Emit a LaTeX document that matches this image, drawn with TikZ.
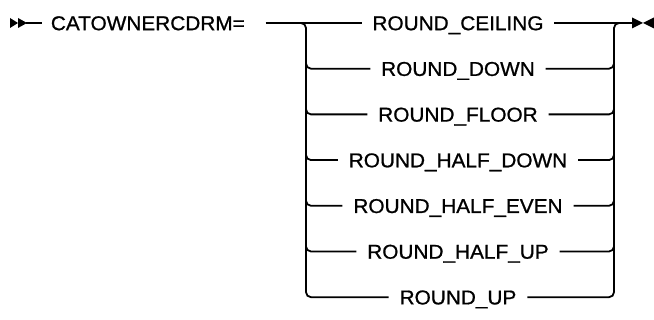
\documentclass[tikz,border=0pt]{standalone}
\usepackage{fontspec}
\setmainfont{Liberation Sans}[FakeStretch=1.04,FakeBold=0.9]
\usetikzlibrary{calc}
\begin{document}
\begin{tikzpicture}[x=1pt,y=1pt,line width=1.8pt,
  lbl/.style={inner sep=0pt,anchor=base,font=\fontsize{20}{22}\selectfont},
  br/.style={rounded corners=5pt},
  tip/.style={fill=black,draw=none}]
\useasboundingbox (0,0) rectangle (654,320);
% start
\fill[tip] (10,302) -- (10,292) -- (18,297) -- cycle;
\fill[tip] (18,302) -- (18,292) -- (27,297) -- cycle;
\coordinate (st) at (26,297);
\node[lbl,anchor=base west] (cat) at (50,289.8) {CATOWNERCDRM=};
\draw (st) -- ($(cat.west|-st)+(-8,0)$);
% rows
\foreach \i/\t [evaluate=\i as \yy using 297-45.7*\i] in
  {0/ROUND\_CEILING,1/ROUND\_DOWN,2/ROUND\_FLOOR,3/ROUND\_HALF\_DOWN,4/ROUND\_HALF\_EVEN,5/ROUND\_HALF\_UP,6/ROUND\_UP}{
  \node[lbl] (t\i) at (458,\yy-7.2) {\t};
  \coordinate (L\i) at (306,\yy);
  \coordinate (R\i) at (614,\yy);
}
\coordinate (en) at (633,297);
% main line
\draw ($(cat.east|-st)+(20,0)$) -- ($(t0.west|-L0)+(-10,0)$);
\draw ($(t0.east|-R0)+(10,0)$) -- (en);
% left bracket
\draw[br] ($(L0)+(-10,0)$) -| (L6) -- ($(t6.west|-L6)+(-10,0)$);
% right bracket
\draw[br] ($(t6.east|-R6)+(10,0)$) -| (R0) -- ($(R0)+(10,0)$);
\foreach \i in {1,...,5}{
  \draw[br] ($(L\i)+(0,10)$) |- ($(t\i.west|-L\i)+(-10,0)$);
  \draw[br] ($(t\i.east|-R\i)+(10,0)$) -| ($(R\i)+(0,10)$);
}
% end
\fill[tip] (632,302.5) -- (632,291.5) -- (643,297) -- cycle;
\fill[tip] (654,302.5) -- (654,291.5) -- (643,297) -- cycle;
\end{tikzpicture}
\end{document}
